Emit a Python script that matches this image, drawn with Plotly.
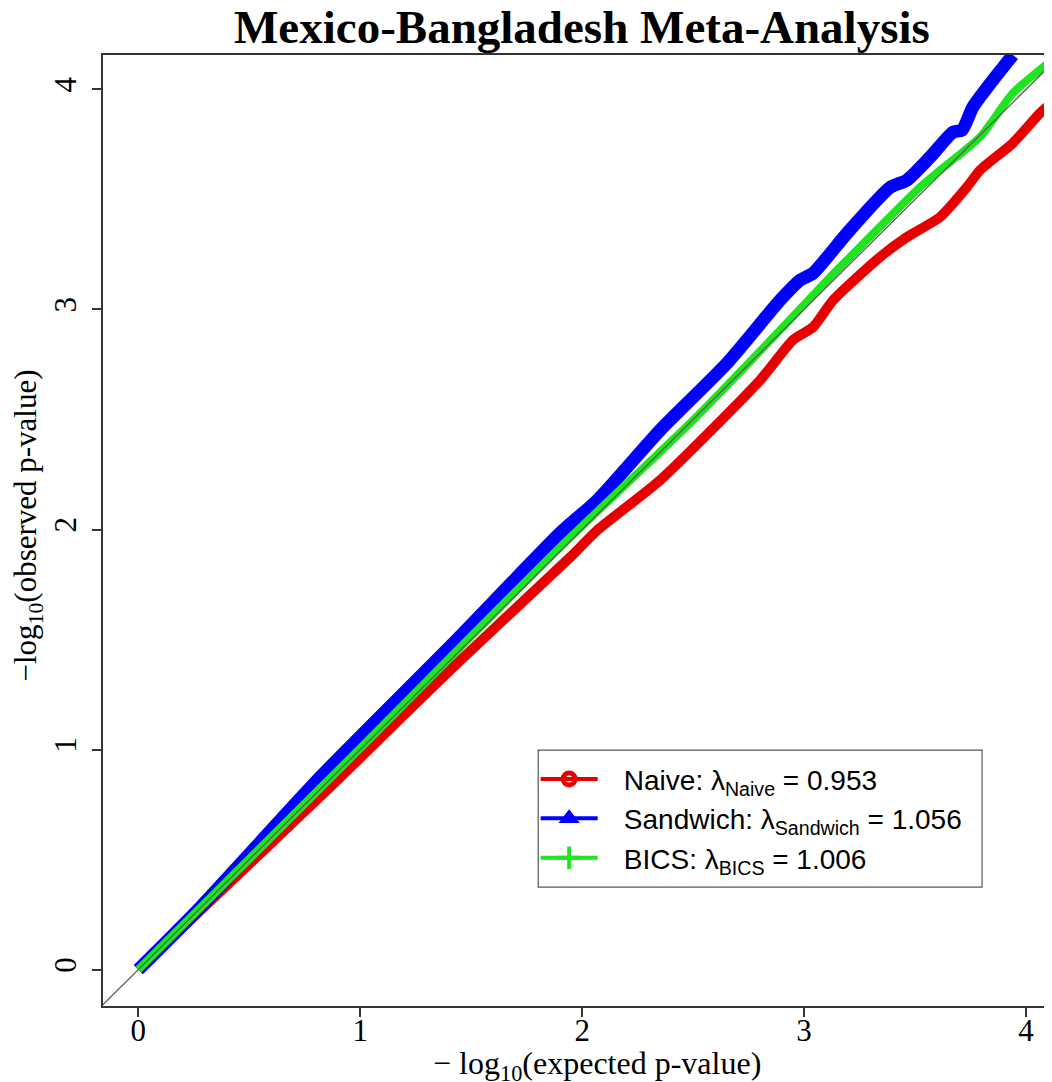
import plotly.graph_objects as go

# ---- data ----
naive_expected = [0.0, 0.910, 1.419, 1.946, 2.068, 2.351, 2.802, 2.950, 3.041, 3.131, 3.342, 3.464, 3.613, 3.734, 3.793, 3.941, 4.063, 4.095, 4.117]
naive_observed = [0.0, 0.874, 1.375, 1.874, 1.997, 2.224, 2.679, 2.861, 2.920, 3.042, 3.238, 3.329, 3.420, 3.556, 3.633, 3.756, 3.892, 3.920, 3.937]

sandwich_expected = [0.0, 0.279, 0.820, 1.419, 1.901, 2.068, 2.351, 2.653, 2.892, 2.982, 3.041, 3.194, 3.387, 3.464, 3.568, 3.671, 3.712, 3.761, 3.851, 3.941]
sandwich_observed = [0.0, 0.283, 0.875, 1.483, 1.984, 2.133, 2.451, 2.756, 3.042, 3.133, 3.165, 3.347, 3.554, 3.588, 3.692, 3.806, 3.815, 3.920, 4.042, 4.156]

bics_expected = [0.0, 1.000, 1.901, 2.500, 2.892, 3.104, 3.194, 3.523, 3.613, 3.793, 3.941, 4.117]
bics_observed = [0.0, 1.006, 1.920, 2.497, 2.906, 3.133, 3.225, 3.556, 3.633, 3.783, 3.983, 4.134]

x_ticks = [0, 1, 2, 3, 4]
y_ticks = [0, 1, 2, 3, 4]
x_range = [-0.159, 4.117]
y_range = [-0.165, 4.156]

GAP = "\u00a0\u00a0\u2009"
legend_names = [
    GAP + "Naive: λ<sub>Naive</sub> = 0.953",
    GAP + "Sandwich: λ<sub>Sandwich</sub> = 1.056",
    GAP + "BICS: λ<sub>BICS</sub> = 1.006",
]

RED = "#e80000"
BLUE = "#0000ff"
GREEN = "#1ee61e"

fig = go.Figure()

fig.add_trace(go.Scatter(x=naive_expected, y=naive_observed, mode="lines",
                         line=dict(color=RED, width=10, shape="spline", smoothing=0.6), showlegend=False))
fig.add_trace(go.Scatter(x=sandwich_expected, y=sandwich_observed, mode="lines",
                         line=dict(color=BLUE, width=13, shape="spline", smoothing=0.6), showlegend=False))
fig.add_trace(go.Scatter(x=bics_expected, y=bics_observed, mode="lines",
                         line=dict(color=GREEN, width=8, shape="spline", smoothing=0.6), showlegend=False))
# identity line
fig.add_trace(go.Scatter(x=[x_range[0] - 0.1, x_range[1] + 0.2], y=[x_range[0] - 0.1, x_range[1] + 0.2],
                         mode="lines", line=dict(color="#5a5a5a", width=1.3), showlegend=False))

# legend entries
fig.add_trace(go.Scatter(x=[None], y=[None], mode="lines+markers", name=legend_names[0],
                         line=dict(color=RED, width=4),
                         marker=dict(symbol="circle-open", size=12, color=RED, line=dict(width=5, color=RED))))
fig.add_trace(go.Scatter(x=[None], y=[None], mode="lines+markers", name=legend_names[1],
                         line=dict(color=BLUE, width=4),
                         marker=dict(symbol="triangle-up", size=15, color=BLUE, line=dict(width=2, color=BLUE))))
fig.add_trace(go.Scatter(x=[None], y=[None], mode="lines+markers", name=legend_names[2],
                         line=dict(color=GREEN, width=4),
                         marker=dict(symbol="cross-thin-open", size=17, color=GREEN, line=dict(width=4, color=GREEN))))

axis_common = dict(showgrid=False, zeroline=False, showline=True, linecolor="#333333", linewidth=1.5,
                   ticks="outside", ticklen=9, tickwidth=1.5, tickcolor="#333333",
                   tickfont=dict(family="Liberation Serif", size=31, color="black"))

fig.update_xaxes(range=x_range, tickvals=x_ticks, mirror=True, ticklabelstandoff=-13, **axis_common)
fig.update_yaxes(range=y_range, tickvals=y_ticks, tickangle=-90, ticklabelstandoff=4, **axis_common)

fig.update_layout(
    width=1044, height=1074,
    margin=dict(l=94.7, r=0, t=47, b=76.3, pad=0),
    plot_bgcolor="white", paper_bgcolor="white",
    showlegend=True,
    legend=dict(x=0.4559, y=0.1969, xanchor="left", yanchor="middle",
                bgcolor="rgba(0,0,0,0)", borderwidth=0,
                font=dict(family="Liberation Sans", size=28, color="black"),
                itemwidth=57, tracegroupgap=0),
    shapes=[
        dict(type="rect", xref="paper", yref="paper", x0=0.4586, x1=0.9263, y0=0.1249, y1=0.269,
             line=dict(color="#555555", width=1.2), fillcolor="white", layer="above"),
    ],
    annotations=[
        dict(text="<b>Mexico-Bangladesh Meta-Analysis</b>", xref="paper", yref="paper",
             x=0.5049, y=1.0295, xanchor="center", yanchor="middle", showarrow=False,
             font=dict(family="Liberation Serif", size=47, color="black")),
        dict(text="− log<sub>10</sub>(expected p-value)", xref="paper", yref="paper",
             x=0.5207, y=-0.0622, xanchor="center", yanchor="middle", showarrow=False,
             font=dict(family="Liberation Serif", size=32, color="black")),
        dict(text="−log<sub>10</sub>(observed p-value)", xref="paper", yref="paper",
             x=-0.0787, y=0.5056, xanchor="center", yanchor="middle", showarrow=False, textangle=-90,
             font=dict(family="Liberation Serif", size=31, color="black")),
    ],
)

fig.write_html("out.html")
